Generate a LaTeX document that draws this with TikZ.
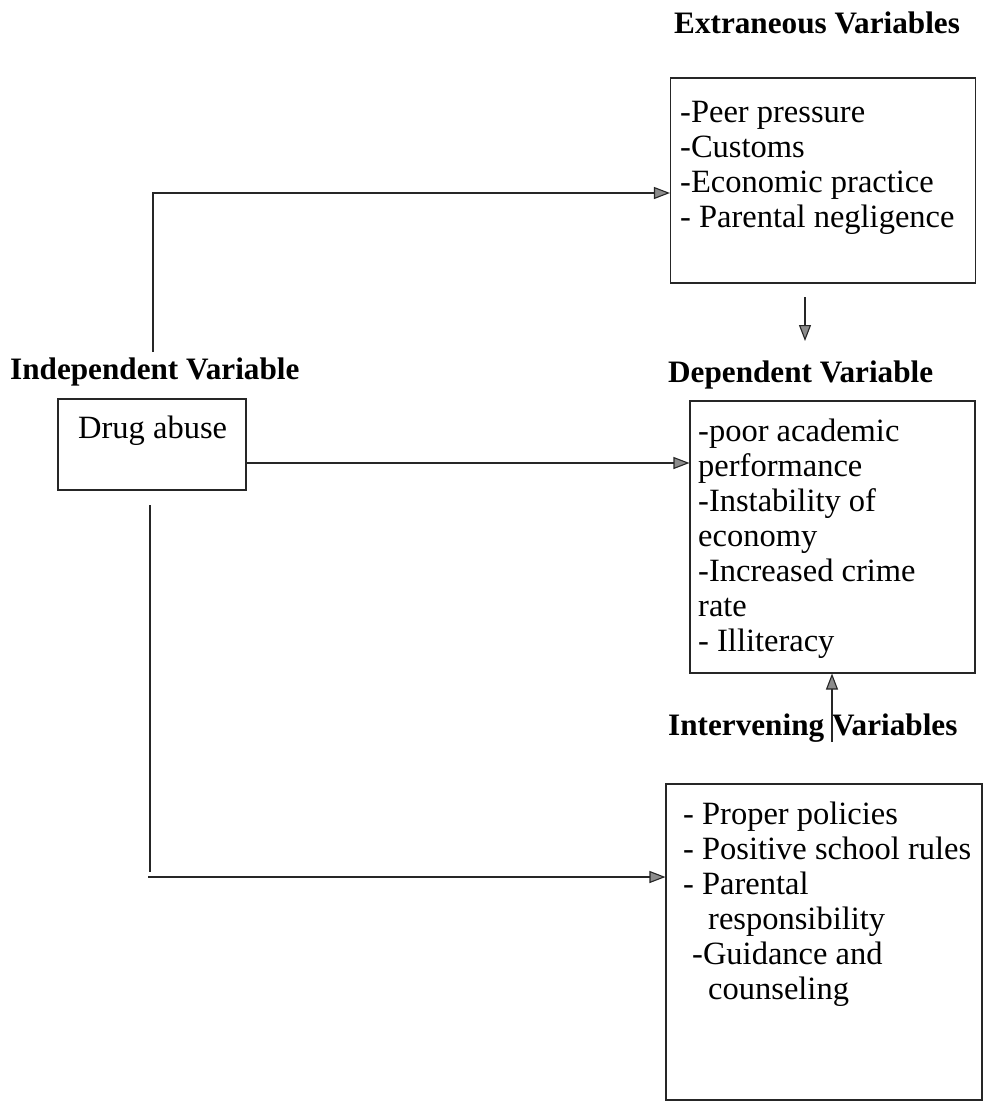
\documentclass[tikz,border=0pt]{standalone}
\usepackage{fontspec}
\setmainfont{Liberation Serif}
\usetikzlibrary{arrows.meta,calc}
\tikzset{
  box/.style={draw=black!85, line width=1.1pt, rectangle, inner sep=0pt},
  body/.style={anchor=north west, inner sep=0pt, align=left,
    font=\fontsize{32.5}{35}\selectfont},
  head/.style={anchor=west, inner sep=0pt, font=\fontsize{31.2}{35}\selectfont\bfseries},
  conn/.style={draw=black!85, line width=1.1pt},
  arr/.style={conn, -{Triangle[length=16pt,width=12pt,fill=black!45]}},
}
\begin{document}
\begin{tikzpicture}[x=1pt,y=-1pt]
\useasboundingbox (0,0) rectangle (995,1109);
% boxes
\node[box, minimum width=305pt, minimum height=205pt] (ext) at (823,180.5) {};
\node[box, minimum width=188pt, minimum height=91pt] (drug) at (152,444.5) {};
\node[box, minimum width=285pt, minimum height=272pt] (dep) at (832.5,537) {};
\node[box, minimum width=316pt, minimum height=316pt] (int) at (824,942) {};
% headings
\node[head] (hext) at (674,23) {Extraneous Variables};
\node[head] (hind) at (10,372) {Independent Variable};
\node[head] (hdep) at (668,375) {Dependent Variable};
\node[head] (hint) at (668,728) {Intervening Variables};
% texts
\node[body] (text) at (680,101) {-Peer pressure\\-Customs\\-Economic practice\\- Parental negligence};
\node[body] (tdrug) at (78,416) {Drug abuse};
\node[body] (tdep) at (698,419) {-poor academic\\performance\\-Instability of\\economy\\-Increased crime\\rate\\- Illiteracy};
\node[body] (tint) at (683,802) {- Proper policies\\- Positive school rules\\- Parental\\\hspace*{25pt}responsibility\\\hspace*{9pt}-Guidance and\\\hspace*{25pt}counseling};
% connectors
\coordinate (a1) at (153,352);
\draw[arr] (a1) |- (ext.west |- 0,193);
\coordinate (d1) at (805,297);
\coordinate (d2) at (805,341);
\draw[arr] (d1) -- (d2);
\draw[arr] (drug.east |- 0,463) -- (dep.west |- 0,463);
\coordinate (b1) at (150,505);
\coordinate (b2) at (150,872);
\draw[conn] (b1) -- (b2);
\coordinate (b3) at (148,877);
\draw[arr] (b3) -- (int.west |- b3);
\coordinate (u1) at (832,742);
\draw[arr] (u1) -- (dep.south -| u1);
\end{tikzpicture}
\end{document}
